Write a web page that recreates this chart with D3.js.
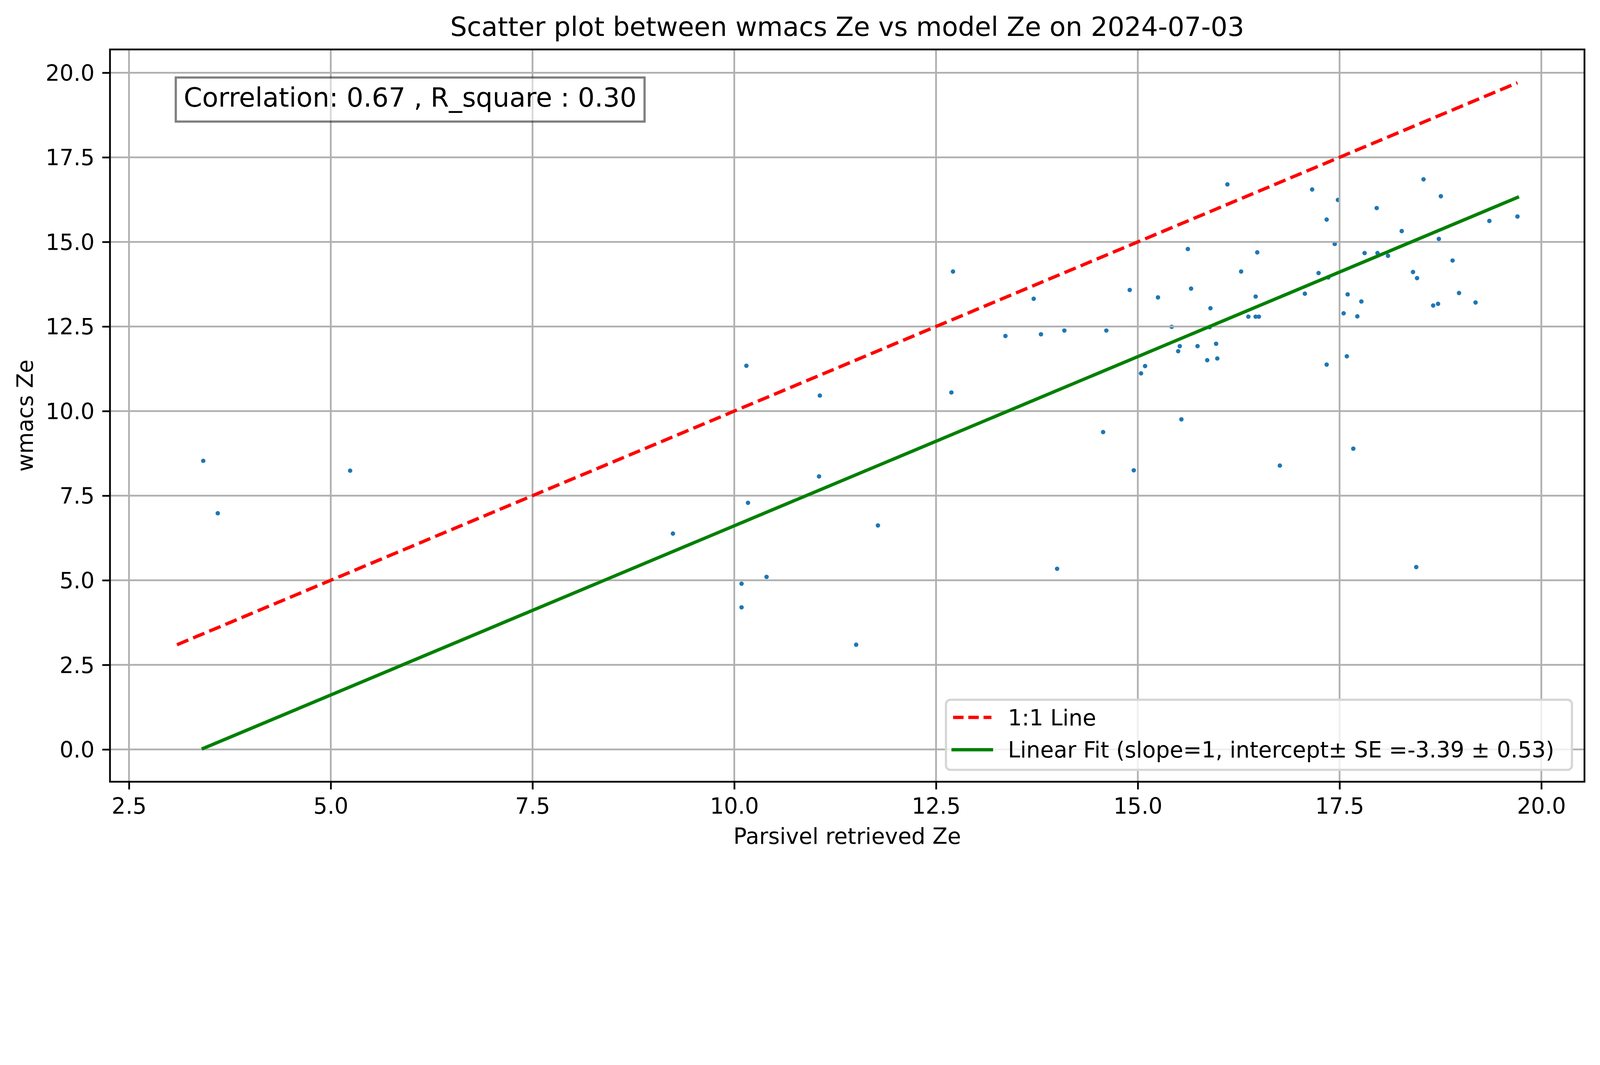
<!DOCTYPE html>
<html>
<head>
<meta charset="utf-8">
<script src="https://cdn.jsdelivr.net/npm/d3@7"></script>
<style>
html, body { margin: 0; padding: 0; overflow: hidden; background: #fff; }
svg { display: block; width: 100vw; height: 100vh; }
text { font-family: "DejaVu Sans", sans-serif; fill: #000; }
</style>
</head>
<body>
<svg id="chart"></svg>
<script>
// values
let parsivelZe = [3.42, 3.60, 5.24, 9.24, 10.17, 10.09, 10.09, 10.40, 10.15, 11.06,
    11.05, 11.78, 11.51, 12.71, 12.69, 13.36, 13.71, 13.80, 14.09, 14.00,
    14.57, 14.61, 14.90, 14.95, 15.04, 15.09, 15.25, 15.42, 15.50, 15.52,
    15.54, 15.62, 15.66, 15.74, 15.86, 15.89, 15.90, 15.97, 15.985, 16.11,
    16.28, 16.37, 16.46, 16.46, 16.48, 16.50, 16.76, 17.07, 17.16, 17.24,
    17.34, 17.34, 17.36, 17.44, 17.48, 17.55, 17.59, 17.60, 17.67, 17.72,
    17.77, 17.81, 17.96, 17.97, 18.10, 18.27, 18.41, 18.45, 18.46, 18.54,
    18.66, 18.72, 18.73, 18.755, 18.90, 18.98, 19.185, 19.356, 19.704];
let wmacsZe = [8.53, 6.98, 8.24, 6.38, 7.29, 4.90, 4.20, 5.10, 11.34, 10.46,
    8.07, 6.62, 3.095, 14.125, 10.55, 12.22, 13.32, 12.27, 12.38, 5.34,
    9.38, 12.38, 13.58, 8.25, 11.115, 11.33, 13.36, 12.49, 11.77, 11.92,
    9.756, 14.79, 13.62, 11.92, 11.505, 12.48, 13.04, 11.99, 11.555, 16.70,
    14.125, 12.79, 13.385, 12.79, 14.69, 12.79, 8.39, 13.47, 16.55, 14.08,
    15.66, 11.375, 13.95, 14.94, 16.24, 12.89, 11.62, 13.45, 8.89, 12.80,
    13.24, 14.67, 16.00, 14.67, 14.59, 15.32, 14.11, 5.39, 13.93, 16.85,
    13.12, 13.17, 15.09, 16.35, 14.45, 13.49, 13.21, 15.62, 15.75];

let xTicks = [2.5, 5.0, 7.5, 10.0, 12.5, 15.0, 17.5, 20.0];
let yTicks = [0.0, 2.5, 5.0, 7.5, 10.0, 12.5, 15.0, 17.5, 20.0];

let fitSlope = 1;
let fitIntercept = -3.39;
let fitSE = 0.53;
let correlation = 0.67;
let rSquare = 0.30;

let chartTitle = "Scatter plot between wmacs Ze vs model Ze on 2024-07-03";
let xLabel = "Parsivel retrieved Ze";
let yLabel = "wmacs Ze";
let legendLabels = ["1:1 Line",
    "Linear Fit (slope=" + fitSlope + ", intercept\u00b1 SE =" + fitIntercept.toFixed(2) + " \u00b1 " + fitSE.toFixed(2) + ")"];

const W = 5048, H = 2726;
const pt = 500 / 72;   // figure was saved around 500 dpi
const margin = {top: 156, right: 49, bottom: 260, left: 347};
const plotW = W - margin.left - margin.right;
const plotH = H - margin.top - margin.bottom;

// drawn in a fixed 5048x2726 box, scaled to the window width, kept at the top
const svg = d3.select("#chart")
    .attr("viewBox", "0 0 " + W + " " + H)
    .attr("preserveAspectRatio", "xMidYMin meet");

// line extents, the way the original script builds them
let oneToOne = [d3.min(parsivelZe.concat(wmacsZe)), d3.max(parsivelZe.concat(wmacsZe))];
let fitX = d3.extent(parsivelZe);

// matplotlib style 5% margins round everything that is drawn
function padded(lo, hi) {
    let m = (hi - lo) * 0.05;
    return [lo - m, hi + m];
}
let xDomain = padded(Math.min(oneToOne[0], fitX[0]), Math.max(oneToOne[1], fitX[1]));
let yDomain = padded(Math.min(oneToOne[0], fitX[0] * fitSlope + fitIntercept, d3.min(wmacsZe)),
    Math.max(oneToOne[1], fitX[1] * fitSlope + fitIntercept, d3.max(wmacsZe)));

const x = d3.scaleLinear().domain(xDomain).range([0, plotW]);
const y = d3.scaleLinear().domain(yDomain).range([plotH, 0]);

const g = svg.append("g").attr("transform", "translate(" + margin.left + "," + margin.top + ")");

// points (matplotlib puts collections under the grid)
g.append("g")
    .selectAll("circle")
    .data(parsivelZe.map((d, i) => [d, wmacsZe[i]]))
    .enter().append("circle")
    .attr("cx", d => x(d[0]))
    .attr("cy", d => y(d[1]))
    .attr("r", 7)
    .style("fill", "#1f77b4");

// grid
const grid = g.append("g");
grid.selectAll(".gx").data(xTicks).enter().append("line")
    .attr("x1", d => x(d)).attr("x2", d => x(d))
    .attr("y1", 0).attr("y2", plotH);
grid.selectAll(".gy").data(yTicks).enter().append("line")
    .attr("x1", 0).attr("x2", plotW)
    .attr("y1", d => y(d)).attr("y2", d => y(d));
grid.selectAll("line")
    .style("stroke", "#b0b0b0")
    .style("stroke-width", 0.8 * pt);

// 1:1 line and the fit
const line = d3.line().x(d => x(d[0])).y(d => y(d[1]));
g.append("path")
    .datum(oneToOne.map(v => [v, v]))
    .attr("d", line)
    .style("fill", "none")
    .style("stroke", "red")
    .style("stroke-width", 1.5 * pt)
    .style("stroke-dasharray", "38.5,16.7");
g.append("path")
    .datum(fitX.map(v => [v, v * fitSlope + fitIntercept]))
    .attr("d", line)
    .style("fill", "none")
    .style("stroke", "green")
    .style("stroke-width", 1.5 * pt)
    .style("stroke-linecap", "square");

// axes
const fontTick = 10 * pt;
const xAxis = d3.axisBottom(x).tickValues(xTicks).tickFormat(d3.format(".1f"))
    .tickSize(3.5 * pt).tickPadding(3.5 * pt);
const yAxis = d3.axisLeft(y).tickValues(yTicks).tickFormat(d3.format(".1f"))
    .tickSize(3.5 * pt).tickPadding(3.5 * pt);

const gx = g.append("g").attr("transform", "translate(0," + plotH + ")").call(xAxis);
const gy = g.append("g").call(yAxis);
[gx, gy].forEach(function(a) {
    a.select(".domain").remove();
    a.selectAll(".tick line").style("stroke", "#000").style("stroke-width", 0.8 * pt);
    a.selectAll(".tick text")
        .style("font-family", "'DejaVu Sans', sans-serif")
        .style("font-size", fontTick + "px")
        .style("fill", "#000");
});
gx.selectAll(".tick text").attr("dy", "0.76em");
gy.selectAll(".tick text").attr("dy", "0.36em");

// spines
g.append("rect")
    .attr("width", plotW).attr("height", plotH)
    .style("fill", "none")
    .style("stroke", "#000")
    .style("stroke-width", 0.8 * pt);

// correlation box
const corr = g.append("g");
const corrText = corr.append("text")
    .attr("x", 0.05 * plotW)
    .attr("y", 337 - margin.top)
    .style("font-size", (12 * pt) + "px")
    .text("Correlation: " + correlation.toFixed(2) + " , R_square : " + rSquare.toFixed(2));
let tb = corrText.node().getBBox();
corr.insert("rect", "text")
    .attr("x", tb.x - 25)
    .attr("y", 244.5 - margin.top)
    .attr("width", tb.width + 50)
    .attr("height", 139)
    .style("fill", "white").style("fill-opacity", 0.5)
    .style("stroke", "black").style("stroke-opacity", 0.5)
    .style("stroke-width", 1 * pt);

// legend, lower right
const legend = svg.append("g");
legend.append("rect")
    .attr("x", 2984.5).attr("y", 2207.5)
    .attr("width", 4959.5 - 2984.5).attr("height", 2428.5 - 2207.5)
    .attr("rx", 14).attr("ry", 14)
    .style("fill", "white").style("fill-opacity", 0.8)
    .style("stroke", "#d6d6d6")
    .style("stroke-width", 1 * pt);

let legendStyles = [
    {color: "red", dash: "33,15", cap: "butt"},
    {color: "green", dash: null, cap: "square"}
];
let rowY = [2263, 2365];
legendLabels.forEach(function(label, i) {
    legend.append("line")
        .attr("x1", 3007).attr("x2", 3128)
        .attr("y1", rowY[i]).attr("y2", rowY[i])
        .style("stroke", legendStyles[i].color)
        .style("stroke-width", 1.5 * pt)
        .style("stroke-linecap", legendStyles[i].cap)
        .style("stroke-dasharray", legendStyles[i].dash);
    legend.append("text")
        .attr("x", 3180)
        .attr("y", rowY[i] + 25)
        .style("font-size", fontTick + "px")
        .text(label);
});

// title and axis labels
svg.append("text")
    .attr("x", margin.left + plotW / 2)
    .attr("y", 113)
    .attr("text-anchor", "middle")
    .style("font-size", (12 * pt) + "px")
    .text(chartTitle);

svg.append("text")
    .attr("x", margin.left + plotW / 2)
    .attr("y", 2662)
    .attr("text-anchor", "middle")
    .style("font-size", fontTick + "px")
    .text(xLabel);

svg.append("text")
    .attr("transform", "translate(103," + (margin.top + plotH / 2) + ") rotate(-90)")
    .attr("text-anchor", "middle")
    .style("font-size", fontTick + "px")
    .text(yLabel);
</script>
</body>
</html>
